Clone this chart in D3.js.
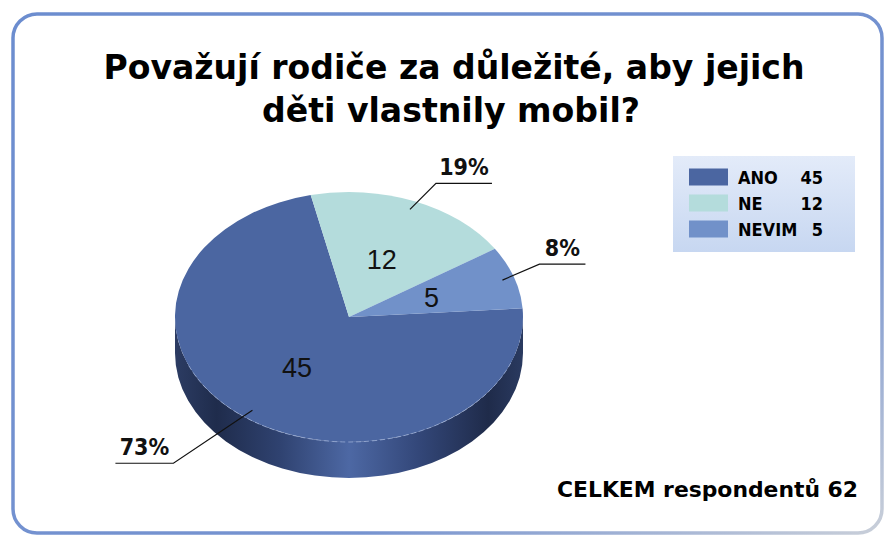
<!DOCTYPE html>
<html>
<head>
<meta charset="utf-8">
<script src="https://cdn.jsdelivr.net/npm/d3@7"></script>
<style>
  body { margin: 0; background: #fff; }
  text { font-family: "DejaVu Sans", Verdana, sans-serif; }
</style>
</head>
<body>
<div class="chart"></div>
<script>
// data
var categories = ["ANO", "NE", "NEVIM"];
var counts = [45, 12, 5];
var titleLines = ["Považují rodiče za důležité, aby jejich", "děti vlastnily mobil?"];
var totalLabel = "CELKEM respondentů 62";

var svgWidth = 884, svgHeight = 538;

var colors = ["#4b66a1", "#b4dcdc", "#7191c9"];
var boldFont = "'DejaVu Sans Condensed', 'DejaVu Sans', sans-serif";

var svg = d3.select(".chart").append("svg")
  .attr("width", svgWidth)
  .attr("height", svgHeight);

var defs = svg.append("defs");

// frame gradient: blue top-left fading to grey bottom-right
var fg = defs.append("linearGradient").attr("id", "frameGrad")
  .attr("x1", "0%").attr("y1", "0%").attr("x2", "100%").attr("y2", "100%");
fg.append("stop").attr("offset", "0%").attr("stop-color", "#6c8dcf");
fg.append("stop").attr("offset", "70%").attr("stop-color", "#7693d0");
fg.append("stop").attr("offset", "100%").attr("stop-color", "#c9cfd9");

svg.append("rect")
  .attr("x", 13).attr("y", 14)
  .attr("width", 869).attr("height", 519)
  .attr("rx", 24).attr("ry", 24)
  .attr("fill", "#fff")
  .attr("stroke", "url(#frameGrad)")
  .attr("stroke-width", 3.5);

// side wall gradient
var sg = defs.append("linearGradient").attr("id", "sideGrad")
  .attr("x1", "0%").attr("y1", "0%").attr("x2", "100%").attr("y2", "0%");
[["0%", "#2c3c63"], ["12%", "#1f2c4c"], ["30%", "#2f4270"], ["50%", "#4d68a4"],
 ["70%", "#334779"], ["90%", "#1f2b4a"], ["100%", "#2a3a60"]].forEach(function (s) {
  sg.append("stop").attr("offset", s[0]).attr("stop-color", s[1]);
});

// legend gradient
var lg = defs.append("linearGradient").attr("id", "legGrad")
  .attr("x1", "0%").attr("y1", "0%").attr("x2", "0%").attr("y2", "100%");
lg.append("stop").attr("offset", "0%").attr("stop-color", "#e3ebf9");
lg.append("stop").attr("offset", "100%").attr("stop-color", "#c7d7f1");

// title
var title = svg.append("g");
var titleX = [454, 451], titleY = [79, 122], titleW = [701, 378];
titleLines.forEach(function (t, i) {
  title.append("text")
    .attr("x", titleX[i]).attr("y", titleY[i])
    .attr("text-anchor", "middle")
    .attr("font-size", 33)
    .attr("font-weight", "bold")
    .attr("fill", "#000")
    .attr("textLength", titleW[i])
    .attr("lengthAdjust", "spacingAndGlyphs")
    .text(t);
});

// 3D pie
var cx = 349, cy = 317, rx = 174, ry = 125, depth = 36;
var total = d3.sum(counts);
var data = categories.map(function (c, i) { return { name: c, value: counts[i], color: colors[i] }; });

var pie = d3.pie()
  .sort(null)
  .value(function (d) { return d.value; })
  .startAngle(86 * Math.PI / 180)
  .endAngle(86 * Math.PI / 180 + 2 * Math.PI);

var arcs = pie(data);

function px(a, r) { return cx + rx * r * Math.sin(a); }
function py(a, r) { return cy - ry * r * Math.cos(a); }

var chartGroup = svg.append("g");

// side walls (front half only: angle between PI/2 and 3PI/2)
arcs.forEach(function (d) {
  var segs = [];
  [0, 2 * Math.PI].forEach(function (off) {
    var a0 = Math.max(d.startAngle, Math.PI / 2 + off);
    var a1 = Math.min(d.endAngle, 3 * Math.PI / 2 + off);
    if (a1 > a0) segs.push([a0, a1]);
  });
  segs.forEach(function (s) {
    var a0 = s[0], a1 = s[1];
    var p = "M" + px(a0, 1) + "," + py(a0, 1) +
      " A" + rx + "," + ry + " 0 0 1 " + px(a1, 1) + "," + py(a1, 1) +
      " L" + px(a1, 1) + "," + (py(a1, 1) + depth) +
      " A" + rx + "," + ry + " 0 0 0 " + px(a0, 1) + "," + (py(a0, 1) + depth) + " Z";
    chartGroup.append("path")
      .attr("d", p)
      .attr("fill", "url(#sideGrad)");
  });
});

// top faces
chartGroup.selectAll(".top")
  .data(arcs)
  .enter()
  .append("path")
  .attr("class", "top")
  .attr("d", function (d) {
    var large = (d.endAngle - d.startAngle) > Math.PI ? 1 : 0;
    return "M" + cx + "," + cy +
      " L" + px(d.startAngle, 1) + "," + py(d.startAngle, 1) +
      " A" + rx + "," + ry + " 0 " + large + " 1 " + px(d.endAngle, 1) + "," + py(d.endAngle, 1) + " Z";
  })
  .attr("fill", function (d) { return d.data.color; });

// faint highlight along the front rim
chartGroup.append("path")
  .attr("d", "M" + px(Math.PI * 0.62, 1) + "," + py(Math.PI * 0.62, 1) +
    " A" + rx + "," + ry + " 0 0 1 " + px(Math.PI * 1.38, 1) + "," + py(Math.PI * 1.38, 1))
  .attr("fill", "none")
  .attr("stroke", "#9fb2da")
  .attr("stroke-width", 1)
  .attr("stroke-dasharray", "5,3")
  .attr("opacity", 0.7);

// value labels inside slices
chartGroup.selectAll(".val")
  .data(arcs)
  .enter()
  .append("text")
  .attr("class", "val")
  .attr("x", function (d) { return px((d.startAngle + d.endAngle) / 2, 0.5); })
  .attr("y", function (d) { return py((d.startAngle + d.endAngle) / 2, 0.5) + 10; })
  .attr("text-anchor", "middle")
  .style("font-family", "'Liberation Sans Narrow', 'Liberation Sans', Arial, sans-serif")
  .attr("font-size", 27)
  .attr("fill", "#111")
  .text(function (d) { return d.data.value; });

// percentage labels with leader lines
var leader = {
  ANO:   { r: 0.93, ex: -79, ey: 53, len: -58 },
  NE:    { r: 0.93, ex: 26, ey: -26, len: 56 },
  NEVIM: { r: 0.93, ex: 37, ey: -16, len: 46 }
};

arcs.forEach(function (d) {
  var L = leader[d.data.name];
  var m = (d.startAngle + d.endAngle) / 2;
  var x0 = px(m, L.r), y0 = py(m, L.r);
  var x1 = x0 + L.ex, y1 = y0 + L.ey;
  var x2 = x1 + L.len;
  chartGroup.append("path")
    .attr("d", "M" + x0 + "," + y0 + " L" + x1 + "," + y1 + " L" + x2 + "," + y1)
    .attr("fill", "none")
    .attr("stroke", "#111")
    .attr("stroke-width", 1.2);
  var pct = Math.round(d.value / total * 100) + "%";
  chartGroup.append("text")
    .attr("x", (x1 + x2) / 2)
    .attr("y", y1 - 8)
    .attr("text-anchor", "middle")
    .attr("font-size", 23)
    .attr("font-weight", "bold")
    .style("font-family", boldFont)
    .attr("fill", "#111")
    .text(pct);
});

// legend
var legend = svg.append("g");
legend.append("rect")
  .attr("x", 673).attr("y", 156)
  .attr("width", 182).attr("height", 96)
  .attr("fill", "url(#legGrad)");

var ly = d3.scaleBand().domain(categories).range([164, 242]).paddingInner(0);

categories.forEach(function (c, i) {
  var y = ly(c) + ly.bandwidth() / 2;
  legend.append("rect")
    .attr("x", 689).attr("y", y - 8.5)
    .attr("width", 39).attr("height", 17)
    .attr("fill", colors[i]);
  legend.append("text")
    .attr("x", 738).attr("y", y + 7)
    .attr("font-size", 18)
    .attr("font-weight", "bold")
    .style("font-family", boldFont)
    .text(c);
  legend.append("text")
    .attr("x", 823).attr("y", y + 7)
    .attr("text-anchor", "end")
    .attr("font-size", 18)
    .attr("font-weight", "bold")
    .style("font-family", boldFont)
    .text(counts[i]);
});

// total
svg.append("text")
  .attr("x", 557).attr("y", 497)
  .attr("font-size", 21)
  .attr("font-weight", "bold")
  .attr("textLength", 301)
  .attr("lengthAdjust", "spacingAndGlyphs")
  .text(totalLabel);
</script>
</body>
</html>
